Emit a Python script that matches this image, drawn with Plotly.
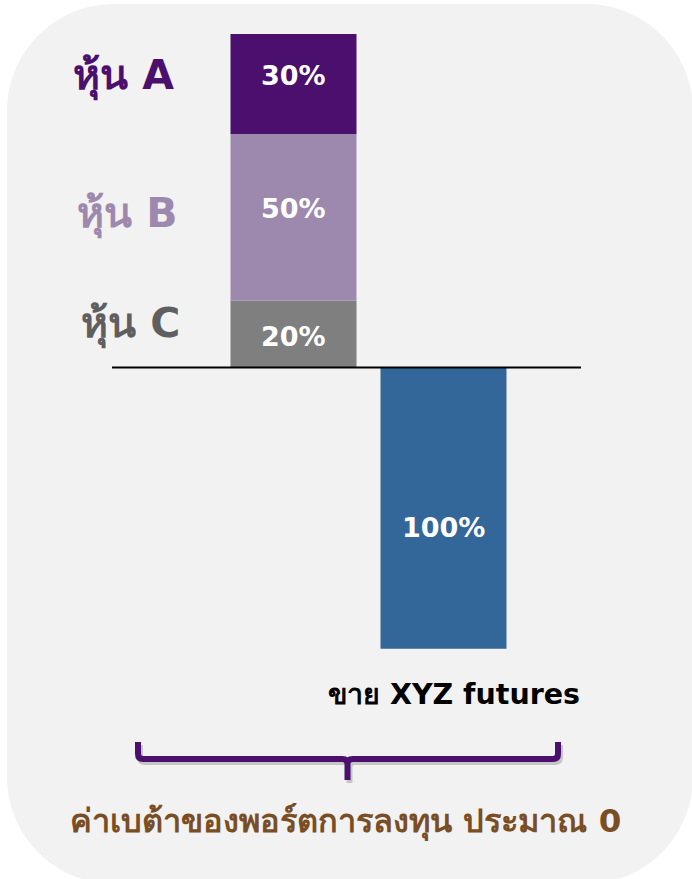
import plotly.graph_objects as go

# ---------------- data ----------------
stock_names = ["หุ้น C", "หุ้น B", "หุ้น A"]          # bottom -> top
stock_weights = [20, 50, 30]
stock_labels = ["20%", "50%", "30%"]
futures_name = "ขาย XYZ futures"
futures_weight = [-100]
futures_labels = ["100%"]
categories = ["หุ้น", "futures"]
footer_text = "ค่าเบต้าของพอร์ตการลงทุน ประมาณ 0"

# ---------------- style ----------------
W, H = 692, 879
FONT = "DejaVu Sans, Noto Sans, sans-serif"
bar_colors = ["#7f7f7f", "#9e89ae", "#4b0f6e"]
label_colors = ["#5f5f5f", "#9e89ae", "#4b0f6e"]
futures_color = "#336699"
brace_color = "#4b0f6e"
footer_color = "#7a4e25"
bg_color = "#f2f2f2"


def px(x):
    return x / W


def py(y):
    return 1 - y / H


fig = go.Figure()

for name, w, col in zip(stock_names, stock_weights, bar_colors):
    fig.add_trace(go.Bar(
        x=[categories[0]], y=[w], name=name, width=0.84,
        marker=dict(color=col, line=dict(width=0)),
        yaxis="y", showlegend=False, hoverinfo="skip",
    ))

fig.add_trace(go.Bar(
    x=[categories[1]], y=futures_weight, name=futures_name, width=0.84,
    marker=dict(color=futures_color, line=dict(width=0)),
    yaxis="y2", showlegend=False, hoverinfo="skip",
))

# label inside the futures bar
fig.add_annotation(x=categories[1], y=futures_weight[0] / 2, xref="x", yref="y2",
                   text="<b>%s</b>" % futures_labels[0], showarrow=False, yshift=-19,
                   font=dict(family=FONT, size=27, color="white"))

# stock labels: value inside the segment, name to the left of the stack
cum = 0
value_shift = [-2, 9, 9]
label_shift = [10, 3, 8]
label_x = [130.5, 127.5, 123]
for name, w, lab, col, vs, sh, lx in zip(stock_names, stock_weights, stock_labels,
                                          label_colors, value_shift, label_shift, label_x):
    mid = cum + w / 2
    cum += w
    fig.add_annotation(x=categories[0], y=mid, xref="x", yref="y", yshift=vs,
                       text="<b>%s</b>" % lab, showarrow=False,
                       font=dict(family=FONT, size=27, color="white"))
    fig.add_annotation(x=px(lx), y=mid, xref="paper", yref="y", yshift=sh,
                       text="<b>%s</b>" % name, showarrow=False, xanchor="center",
                       font=dict(family=FONT, size=41, color=col))

# futures caption
fig.add_annotation(x=px(453.5), y=py(713), xref="paper", yref="paper",
                   text="<b>%s</b>" % futures_name, showarrow=False,
                   font=dict(family=FONT, size=28.5, color="black"))

# footer
fig.add_annotation(x=px(345), y=py(844), xref="paper", yref="paper",
                   text="<b>%s</b>" % footer_text, showarrow=False,
                   font=dict(family=FONT, size=32.5, color=footer_color))

# rounded background panel
L, T, R, B, r = 7, 4, 693, 884, 107
k = 0.5523 * r
bg_path = (
    f"M {px(L + r)},{py(T)} L {px(R - r)},{py(T)} "
    f"C {px(R - r + k)},{py(T)} {px(R)},{py(T + r - k)} {px(R)},{py(T + r)} "
    f"L {px(R)},{py(B - r)} "
    f"C {px(R)},{py(B - r + k)} {px(R - r + k)},{py(B)} {px(R - r)},{py(B)} "
    f"L {px(L + r)},{py(B)} "
    f"C {px(L + r - k)},{py(B)} {px(L)},{py(B - r + k)} {px(L)},{py(B - r)} "
    f"L {px(L)},{py(T + r)} "
    f"C {px(L)},{py(T + r - k)} {px(L + r - k)},{py(T)} {px(L + r)},{py(T)} Z"
)
fig.add_shape(type="path", path=bg_path, xref="paper", yref="paper",
              fillcolor=bg_color, line=dict(width=0), layer="below")

# baseline
fig.add_shape(type="line", xref="paper", yref="y", x0=px(112), x1=px(581), y0=0, y1=0,
              line=dict(color="black", width=2), layer="above")


# brace
def brace(dx, dy):
    a, b, c = 138 + dx, 347.5 + dx, 558 + dx
    top, mid, tip = 742 + dy, 759 + dy, 780 + dy
    q = 5
    return (
        f"M {px(a)},{py(top)} L {px(a)},{py(mid - q)} Q {px(a)},{py(mid)} {px(a + q)},{py(mid)} "
        f"L {px(b - q)},{py(mid)} Q {px(b)},{py(mid)} {px(b)},{py(mid + q)} L {px(b)},{py(tip)} "
        f"M {px(b)},{py(mid + q)} Q {px(b)},{py(mid)} {px(b + q)},{py(mid)} "
        f"L {px(c - q)},{py(mid)} Q {px(c)},{py(mid)} {px(c)},{py(mid - q)} L {px(c)},{py(top)}"
    )


fig.add_shape(type="path", path=brace(2, 3), xref="paper", yref="paper",
              line=dict(color="rgba(0,0,0,0.18)", width=6))
fig.add_shape(type="path", path=brace(0, 0), xref="paper", yref="paper",
              line=dict(color=brace_color, width=6))

# axis scaling (pixel layout)
base = 367.5
s1 = 333.5 / 100
s2 = 281.2 / 100
xc0, xstep = 293.5, 150

fig.update_layout(
    width=W, height=H, autosize=False,
    margin=dict(l=0, r=0, t=0, b=0, pad=0),
    paper_bgcolor="white", plot_bgcolor="rgba(0,0,0,0)",
    barmode="relative",
    xaxis=dict(type="category", categoryorder="array", categoryarray=categories,
               range=[-xc0 / xstep, (W - xc0) / xstep], domain=[0, 1], visible=False, fixedrange=True),
    yaxis=dict(range=[-(H - base) / s1, base / s1], domain=[0, 1], visible=False,
               showgrid=False, zeroline=False, fixedrange=True),
    yaxis2=dict(range=[-(H - base) / s2, base / s2], overlaying="y", visible=False,
                showgrid=False, zeroline=False, fixedrange=True),
    showlegend=False,
)

fig.write_html("out.html", config={"displayModeBar": False},
               post_script="document.body.style.margin='0';document.body.style.overflow='hidden';")
